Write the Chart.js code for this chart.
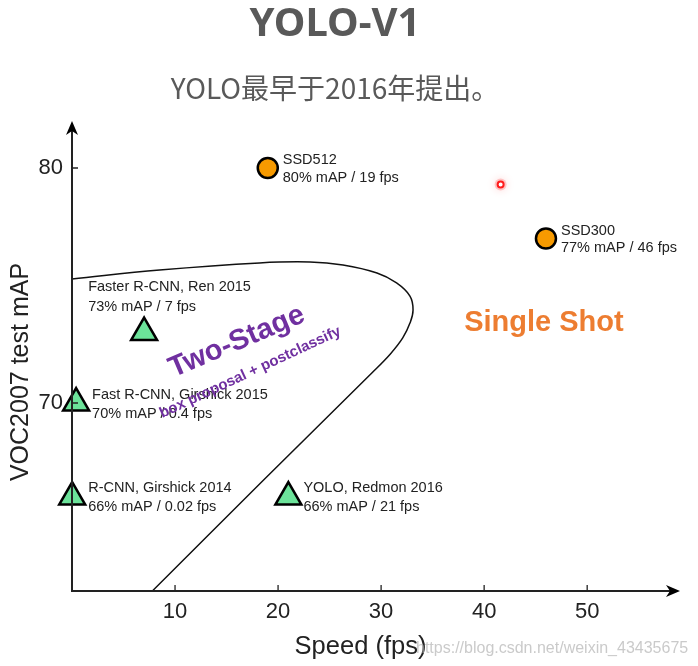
<!DOCTYPE html>
<html>
<head>
<meta charset="utf-8">
<script src="https://cdn.jsdelivr.net/npm/chart.js@4.4.1/dist/chart.umd.min.js"></script>
<style>
  html, body { margin: 0; padding: 0; background: #fff; }
  #wrap { position: relative; width: 698px; height: 666px; }
  #myChart { position: absolute; left: 0; top: 0; }
  .head { position: absolute; left: 0; width: 670px; text-align: center; color: #595959; }
  #title { top: 0; font: bold 40px "Noto Sans", sans-serif; line-height: 42px; }
  #sub { top: 69px; font: 28px "Noto Sans CJK SC", sans-serif; line-height: 36px; }
</style>
</head>
<body>
<div id="wrap">
  <canvas id="myChart" width="698" height="666"></canvas>
  <div class="head" id="title">YOLO-V1</div>
  <div class="head" id="sub">YOLO最早于2016年提出。</div>
</div>
<script>
// detectors: name, speed (fps), VOC2007 mAP
const modelNames = [
  "SSD512",
  "SSD300",
  "Faster R-CNN, Ren 2015",
  "Fast R-CNN, Girshick 2015",
  "R-CNN, Girshick 2014",
  "YOLO, Redmon 2016",
];
const modelFps = [19, 46, 7, 0.4, 0.02, 21];
const modelMap = [80, 77, 73, 70, 66, 66];
const singleShot = [true, true, false, false, false, false];

const xTicks = [10, 20, 30, 40, 50];
const yTicks = [70, 80];

// two-stage region outline (fps, mAP)
const regionFps = [0, 8.5, 18.2, 23.1, 26.3, 29.6, 31.5, 32.8, 33.1, 32.8, 32.1, 30.9, 29.1, 18.4, 7.8];
const regionMap = [75.28, 75.66, 75.96, 76.0, 75.87, 75.53, 75.11, 74.55, 73.96, 73.4, 72.77, 72.09, 71.28, 66.64, 62.0];

// label offsets in pixels from each marker [dx, dy line1, dy line2]
const labelOffsets = [
  [15, -8, 10],
  [15, -8, 9],
  [-56, -46, -26],
  [16, -8, 11],
  [16, -9, 10],
  [15, -9, 10],
];

const notes = [
  { text: "Single Shot", at: [45.8, 73.4], angle: 0, font: "bold 29px 'Liberation Sans'", color: "#ED7D31" },
  { text: "Two-Stage", at: [16.0, 72.6], angle: -23, font: "bold 29px 'Liberation Sans'", color: "#7030A0" },
  { text: "box proposal + postclassify", at: [17.3, 71.3], angle: -25, font: "bold 15px 'Liberation Sans'", color: "#7030A0" },
];
const pointerAt = [41.6, 79.3];

const font = "'Liberation Sans', Arial, sans-serif";
const ink = "#222";

const idx = modelNames.map((_, i) => i);
const toPts = (list) => list.map((i) => ({ x: modelFps[i], y: modelMap[i] }));

const overlay = {
  id: "overlay",
  afterDatasetsDraw(chart) {
    const { ctx, scales: { x, y } } = chart;
    const x0 = x.getPixelForValue(0);
    const yb = y.getPixelForValue(y.min);
    const yt = y.getPixelForValue(y.max);
    const xr = x.right + 31;
    ctx.save();

    // axes with arrows
    ctx.strokeStyle = ink;
    ctx.fillStyle = "#000";
    ctx.lineWidth = 2;
    ctx.beginPath();
    ctx.moveTo(x0, yt + 8);
    ctx.lineTo(x0, yb);
    ctx.lineTo(xr - 8, yb);
    ctx.stroke();
    ctx.beginPath();
    ctx.moveTo(x0, yt);
    ctx.lineTo(x0 - 6, yt + 14);
    ctx.lineTo(x0, yt + 10);
    ctx.lineTo(x0 + 6, yt + 14);
    ctx.closePath();
    ctx.fill();
    ctx.beginPath();
    ctx.moveTo(xr, yb);
    ctx.lineTo(xr - 14, yb - 6);
    ctx.lineTo(xr - 10, yb);
    ctx.lineTo(xr - 14, yb + 6);
    ctx.closePath();
    ctx.fill();

    // inward tick marks
    ctx.lineWidth = 1.3;
    ctx.beginPath();
    xTicks.forEach((v) => {
      const p = x.getPixelForValue(v);
      ctx.moveTo(p, yb);
      ctx.lineTo(p, yb - 6);
    });
    yTicks.forEach((v) => {
      const p = y.getPixelForValue(v);
      ctx.moveTo(x0, p);
      ctx.lineTo(x0 + 6, p);
    });
    ctx.stroke();

    // y axis title
    ctx.fillStyle = ink;
    ctx.font = "25px " + font;
    ctx.textAlign = "center";
    ctx.textBaseline = "middle";
    ctx.save();
    ctx.translate(21, 372);
    ctx.rotate(-Math.PI / 2);
    ctx.fillText("VOC2007 test mAP", 0, 0);
    ctx.restore();

    // marker labels
    ctx.font = "14.5px " + font;
    ctx.textAlign = "left";
    idx.forEach((i) => {
      const px = x.getPixelForValue(modelFps[i]);
      const py = y.getPixelForValue(modelMap[i]);
      const [dx, d1, d2] = labelOffsets[i];
      ctx.fillText(modelNames[i], px + dx, py + d1);
      ctx.fillText(modelMap[i] + "% mAP / " + modelFps[i] + " fps", px + dx, py + d2);
    });

    // region notes
    ctx.textAlign = "center";
    notes.forEach((n) => {
      ctx.save();
      ctx.translate(x.getPixelForValue(n.at[0]), y.getPixelForValue(n.at[1]));
      ctx.rotate((n.angle * Math.PI) / 180);
      ctx.font = n.font;
      ctx.fillStyle = n.color;
      ctx.fillText(n.text, 0, 0);
      ctx.restore();
    });

    // laser pointer dot
    const lx = x.getPixelForValue(pointerAt[0]);
    const ly = y.getPixelForValue(pointerAt[1]);
    ctx.shadowColor = "rgba(255,0,0,0.6)";
    ctx.shadowBlur = 8;
    ctx.fillStyle = "rgba(255,60,60,0.25)";
    ctx.beginPath();
    ctx.arc(lx, ly, 6, 0, Math.PI * 2);
    ctx.fill();
    ctx.shadowBlur = 0;
    ctx.strokeStyle = "#ff1a1a";
    ctx.fillStyle = "#fff";
    ctx.lineWidth = 2;
    ctx.beginPath();
    ctx.arc(lx, ly, 3, 0, Math.PI * 2);
    ctx.fill();
    ctx.stroke();

    // watermark
    ctx.font = "16px " + font;
    ctx.fillStyle = "rgba(180,180,180,0.7)";
    ctx.textAlign = "left";
    ctx.fillText("https://blog.csdn.net/weixin_43435675", 416, 649);
    ctx.restore();
  },
};

const ctx = document.getElementById("myChart");
const chart = new Chart(ctx, {
  type: "scatter",
  data: {
    datasets: [
      {
        label: "single shot",
        data: toPts(idx.filter((i) => singleShot[i])),
        pointStyle: "circle",
        pointRadius: 10,
        backgroundColor: "#F79A00",
        borderColor: "#000",
        borderWidth: 2.5,
        clip: false,
      },
      {
        label: "two stage",
        data: toPts(idx.filter((i) => !singleShot[i])),
        pointStyle: "triangle",
        pointRadius: 15,
        backgroundColor: "#6CE39A",
        borderColor: "#000",
        borderWidth: 2.5,
        clip: false,
      },
      {
        label: "region",
        data: regionFps.map((v, i) => ({ x: v, y: regionMap[i] })),
        showLine: true,
        tension: 0.4,
        pointRadius: 0,
        borderColor: "#111",
        borderWidth: 1.5,
        clip: false,
      },
    ],
  },
  options: {
    responsive: false,
    animation: false,
    layout: { padding: { top: 121, right: 49, bottom: 0, left: 0 } },
    plugins: { legend: { display: false }, tooltip: { enabled: false } },
    scales: {
      x: {
        type: "linear",
        min: 0,
        max: 56,
        grid: { display: false, drawTicks: false },
        border: { display: false },
        afterBuildTicks: (s) => { s.ticks = xTicks.map((v) => ({ value: v })); },
        afterFit: (s) => { s.height = 75; },
        ticks: { color: ink, padding: 8, font: { family: font, size: 22 } },
        title: {
          display: true,
          text: "Speed (fps)",
          color: ink,
          font: { family: font, size: 25.5 },
          padding: { top: 0, bottom: 4 },
        },
      },
      y: {
        type: "linear",
        min: 62,
        max: 82,
        grid: { display: false, drawTicks: false },
        border: { display: false },
        afterBuildTicks: (s) => { s.ticks = yTicks.map((v) => ({ value: v })); },
        afterFit: (s) => { s.width = 72; },
        ticks: { color: ink, padding: 9, font: { family: font, size: 22 } },
      },
    },
  },
  plugins: [overlay],
});
</script>
</body>
</html>
